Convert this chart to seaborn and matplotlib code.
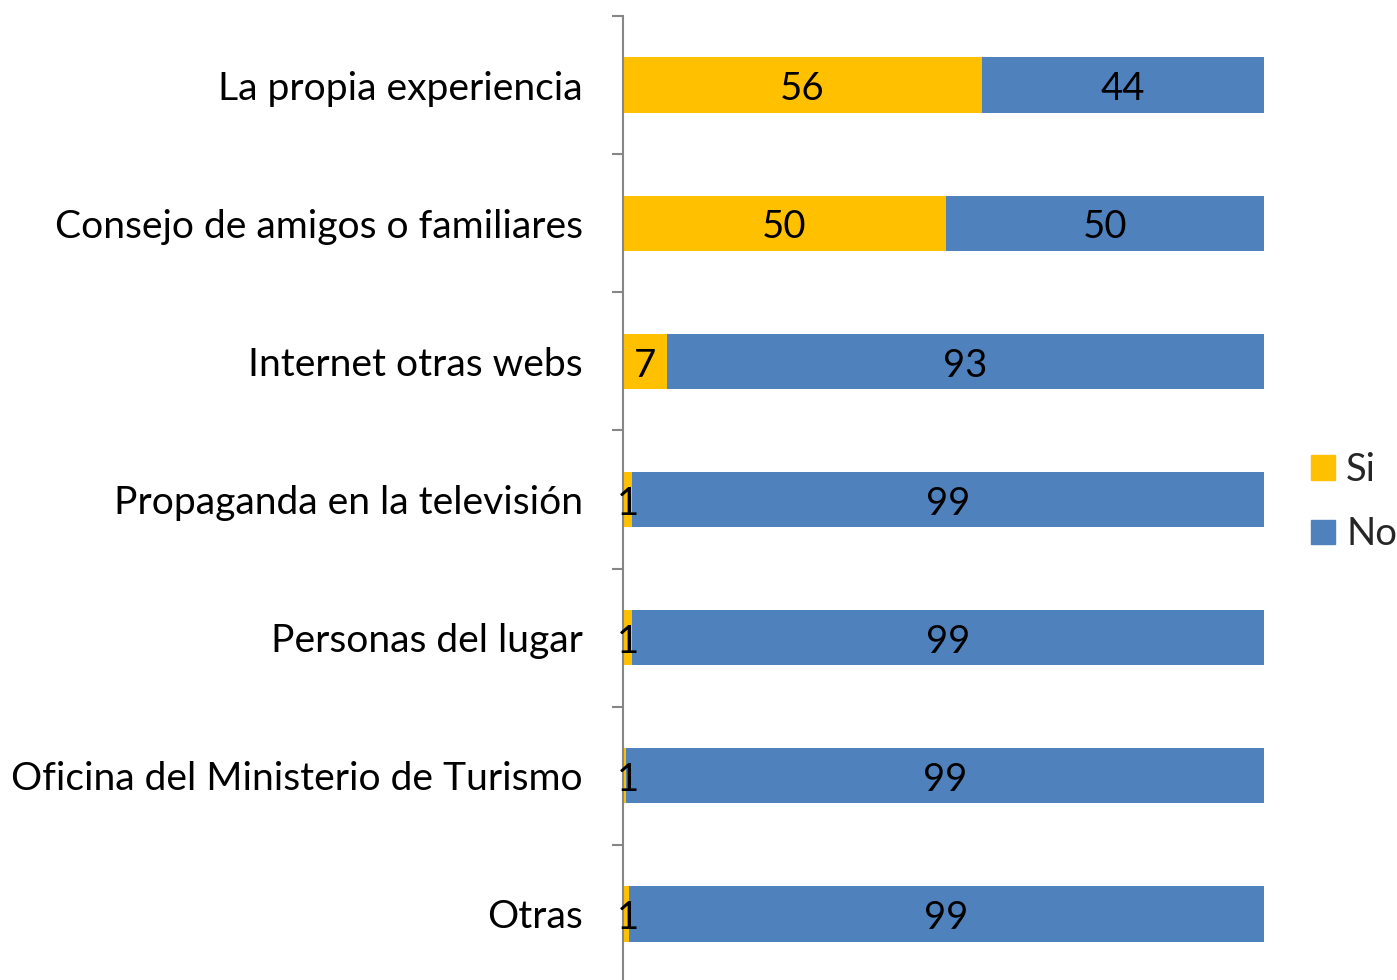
import numpy as np
import pandas as pd
import matplotlib
matplotlib.use("Agg")
import matplotlib.pyplot as plt
import seaborn as sns

# data (percent)
categories = [
    "La propia experiencia",
    "Consejo de amigos o familiares",
    "Internet otras webs",
    "Propaganda en la televisión",
    "Personas del lugar",
    "Oficina del Ministerio de Turismo",
    "Otras",
]
si_values = [56, 50.4, 6.9, 1.4, 1.4, 0.5, 0.9]
no_values = [44, 49.6, 93.1, 98.6, 98.6, 99.5, 99.1]
si_labels = ["56", "50", "7", "1", "1", "1", "1"]
no_labels = ["44", "50", "93", "99", "99", "99", "99"]

yellow = "#FFC000"
blue = "#4F81BD"
fs = 27.5

sns.set_theme(style="white")
plt.rcParams["font.family"] = ["Lato", "DejaVu Sans"]

df = pd.DataFrame({"categoria": categories, "Si": si_values, "No": no_values})
df["total"] = df["Si"] + df["No"]

fig = plt.figure(figsize=(13.97, 9.8), dpi=100)
ax = fig.add_axes([623 / 1397, -3 / 980, 641 / 1397, 967 / 980])

# stacked: full bar in blue, Si on top of it in yellow
sns.barplot(data=df, y="categoria", x="total", color=blue, width=0.4,
            saturation=1, linewidth=0, ax=ax, orient="h")
sns.barplot(data=df, y="categoria", x="Si", color=yellow, width=0.4,
            saturation=1, linewidth=0, ax=ax, orient="h")

c_no = ax.containers[0]
for i, p in enumerate(c_no.patches):
    s = si_values[i]
    n = no_values[i]
    y = p.get_y() + p.get_height() / 2 + 0.03
    ax.text(s + n / 2, y, no_labels[i], ha="center", va="center",
            fontsize=fs, color="black")
    ax.text(s / 2 if s > 3 else 0.8, y, si_labels[i], ha="center", va="center",
            fontsize=fs, color="black")

ax.set_xlim(0, 100)
ax.set_ylim(6.5, -0.5)
ax.set_xlabel("")
ax.set_ylabel("")
ax.set_xticks([])

ax.set_yticks(range(len(categories)))
ax.set_yticklabels(categories, fontsize=28.1)
ax.set_yticks(np.arange(-0.5, 7, 1), minor=True)
ax.tick_params(axis="y", which="major", length=0, pad=29, colors="black")
ax.tick_params(axis="y", which="minor", length=8, width=1.5, color="#868686", left=True)

for side in ["top", "right", "bottom"]:
    ax.spines[side].set_visible(False)
ax.spines["left"].set_color("#868686")
ax.spines["left"].set_linewidth(1.5)

handles = [plt.Rectangle((0, 0), 1, 1, color=yellow),
           plt.Rectangle((0, 0), 1, 1, color=blue)]
fig.legend(handles, ["Si", "No"], loc="center left",
           bbox_to_anchor=(1311 / 1397, 478 / 980), frameon=False,
           fontsize=fs, handlelength=0.62, handleheight=0.62,
           handletextpad=0.3, labelspacing=0.75, borderpad=0,
           borderaxespad=0)

fig.savefig("out.png", dpi=100)
